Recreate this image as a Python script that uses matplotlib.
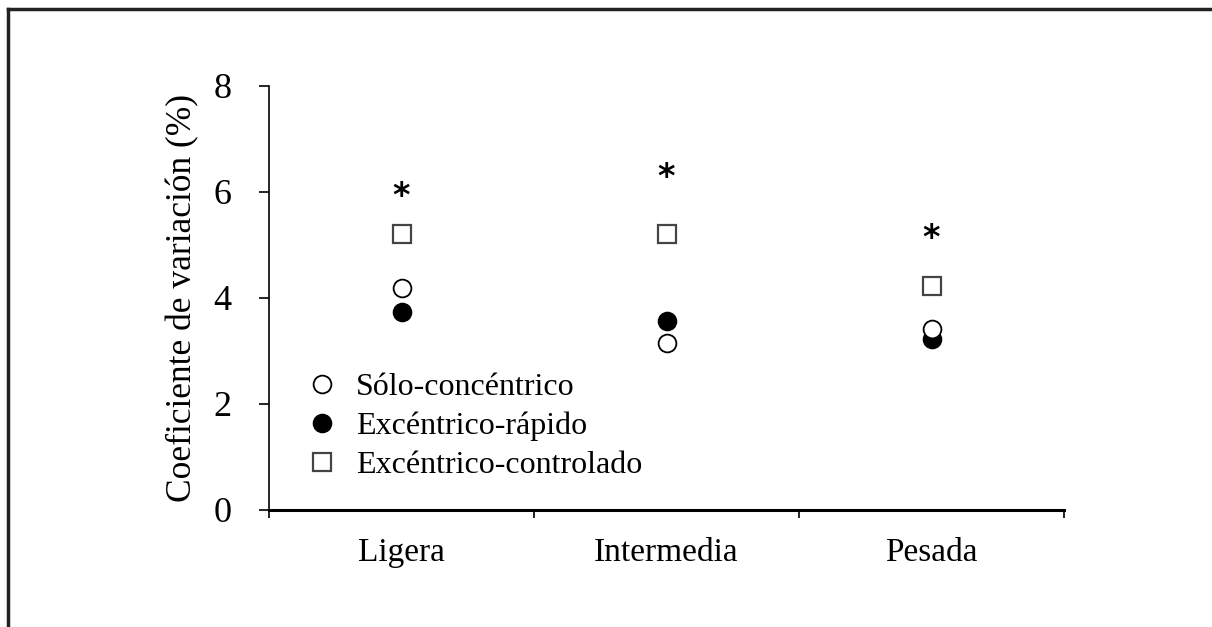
import matplotlib
matplotlib.use("Agg")
import matplotlib.pyplot as plt
from matplotlib.lines import Line2D

categories = ["Ligera", "Intermedia", "Pesada"]
solo_concentrico = [4.18, 3.15, 3.42]
excentrico_rapido = [3.74, 3.57, 3.22]
excentrico_controlado = [5.20, 5.20, 4.22]
star_y = [5.92, 6.27, 5.12]
yticks = [0, 2, 4, 6, 8]

plt.rcParams['font.family'] = ['Liberation Serif', 'DejaVu Serif']

fig = plt.figure(figsize=(12.12, 6.27), dpi=100)
ax = fig.add_axes([269/1212, 1-510/627, (1064-269)/1212, (510-86)/627])

x = [1, 2, 3]
h1, = ax.plot(x, solo_concentrico, linestyle='none', marker='o', markersize=12.8,
              markerfacecolor='white', markeredgecolor='black', markeredgewidth=1.3,
              label='Sólo-concéntrico', zorder=4)
h2, = ax.plot(x, excentrico_rapido, linestyle='none', marker='o', markersize=12.8,
              markerfacecolor='black', markeredgecolor='black', markeredgewidth=1.3,
              label='Excéntrico-rápido', zorder=3)
h3, = ax.plot(x, excentrico_controlado, linestyle='none', marker='s', markersize=13,
              markerfacecolor='white', markeredgecolor='#444444', markeredgewidth=1.6,
              label='Excéntrico-controlado', zorder=3)

for xi, yi in zip(x, star_y):
    ax.text(xi, yi, '*', ha='center', va='center', fontsize=24, fontweight='bold',
            family='DejaVu Sans')

ax.set_xlim(0.5, 3.5)
ax.set_ylim(0, 8)
ax.set_yticks(yticks)
ax.set_yticklabels([str(t) for t in yticks], fontsize=26)
ax.set_xticks([0.5, 1.5, 2.5, 3.5])
ax.set_xticklabels([])
ax.set_xticks(x, minor=True)
ax.set_xticklabels(categories, minor=True, fontsize=24)
ax.tick_params(axis='x', which='minor', length=0, pad=20)
ax.tick_params(axis='x', which='major', length=6, width=1.2, direction='out')
ax.tick_params(axis='y', length=7, width=1.2, direction='out', pad=20)
for s in ['top', 'right']:
    ax.spines[s].set_visible(False)
ax.spines['left'].set_linewidth(1.2)
ax.spines['bottom'].set_linewidth(2.2)

ax.set_ylabel('Coeficiente de variación (%)', fontsize=25.5, labelpad=10)

leg = ax.legend(handles=[h1, h2, h3], loc='lower left', bbox_to_anchor=(0.026, 0.04),
                frameon=False, fontsize=23, handletextpad=0.47, labelspacing=0.3,
                handlelength=1.2, borderaxespad=0)

# figure frame (left and top edges)
fig.add_artist(Line2D([8/1212, 8/1212], [0, 1-9/627], transform=fig.transFigure,
                      color='#222222', linewidth=2.5))
fig.add_artist(Line2D([8/1212, 1], [1-9/627, 1-9/627], transform=fig.transFigure,
                      color='#222222', linewidth=2.5))

fig.savefig('out.png', dpi=100)
